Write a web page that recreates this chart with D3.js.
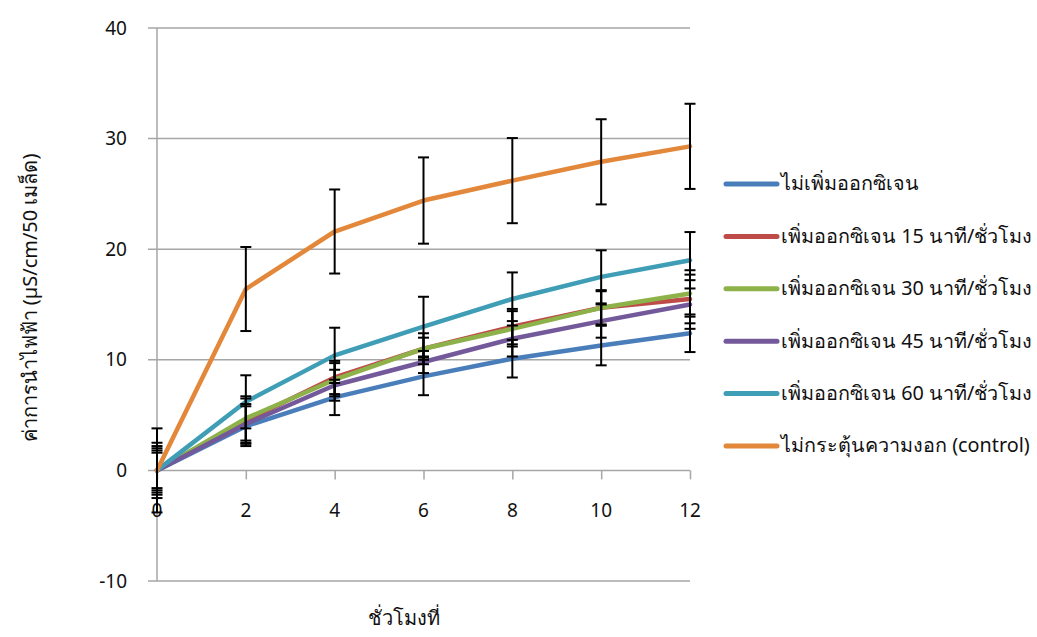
<!DOCTYPE html>
<html>
<head>
<meta charset="utf-8">
<script src="https://cdn.jsdelivr.net/npm/d3@7/dist/d3.min.js"></script>
<style>
  html, body { margin: 0; padding: 0; background: #fff; }
  svg { display: block; }
  text { font-family: "Noto Sans", "DejaVu Sans", sans-serif; fill: #111; }
</style>
</head>
<body>
<svg id="chart" width="1037" height="637"></svg>
<script>
// Hours of measurement
const hours = [0, 2, 4, 6, 8, 10, 12];

// Series names (legend order)
const seriesNames = [
  "ไม่เพิ่มออกซิเจน",
  "เพิ่มออกซิเจน 15 นาที/ชั่วโมง",
  "เพิ่มออกซิเจน 30 นาที/ชั่วโมง",
  "เพิ่มออกซิเจน 45 นาที/ชั่วโมง",
  "เพิ่มออกซิเจน 60 นาที/ชั่วโมง",
  "ไม่กระตุ้นความงอก (control)"
];

// Mean conductivity (µS/cm/50 seeds) per series
const noOxygen   = [0, 4.0, 6.6, 8.5, 10.1, 11.3, 12.4];
const oxygen15   = [0, 4.5, 8.4, 11.0, 13.0, 14.7, 15.5];
const oxygen30   = [0, 4.7, 8.2, 11.0, 12.8, 14.7, 16.0];
const oxygen45   = [0, 4.2, 7.7, 9.8, 11.9, 13.5, 15.0];
const oxygen60   = [0, 6.2, 10.4, 13.0, 15.5, 17.5, 19.0];
const control    = [0, 16.4, 21.6, 24.4, 26.2, 27.9, 29.3];

// Error bar half-widths per series
const errNoOxygen = [1.6, 1.8, 1.6, 1.7, 1.7, 1.8, 1.7];
const errOxygen15 = [2.0, 2.0, 1.5, 1.4, 1.6, 1.5, 2.2];
const errOxygen30 = [2.2, 2.0, 1.5, 1.0, 1.6, 1.6, 2.1];
const errOxygen45 = [1.8, 1.8, 1.4, 1.0, 1.6, 1.5, 2.2];
const errOxygen60 = [2.5, 2.4, 2.5, 2.7, 2.4, 2.4, 2.55];
const errControl  = [3.8, 3.8, 3.8, 3.9, 3.85, 3.85, 3.85];

const seriesColors = ["#4a7ebb", "#be4b48", "#8eb24a", "#73599a", "#3f9db6", "#e3873a"];

// Axis ticks
const xTicks = [0, 2, 4, 6, 8, 10, 12];
const yTicks = [-10, 0, 10, 20, 30, 40];

const xTitle = "ชั่วโมงที่";
const yTitle = "ค่าการนำไฟฟ้า (µS/cm/50 เมล็ด)";

const values = [noOxygen, oxygen15, oxygen30, oxygen45, oxygen60, control];
const errors = [errNoOxygen, errOxygen15, errOxygen30, errOxygen45, errOxygen60, errControl];
const series = seriesNames.map((name, i) => ({
  name, color: seriesColors[i],
  points: hours.map((h, j) => ({ x: h, y: values[i][j], e: errors[i][j] }))
}));

const svg = d3.select("#chart");
const x = d3.scaleLinear().domain([0, 12]).range([157, 690]);
const y = d3.scaleLinear().domain([-10, 40]).range([581, 28]);

const gridColor = "#a6a6a6";

// Horizontal gridlines (with outward stubs on the left acting as y ticks)
svg.append("g")
  .selectAll("line")
  .data(yTicks.filter(v => v !== 0))
  .join("line")
  .attr("x1", 148).attr("x2", x(12))
  .attr("y1", d => y(d)).attr("y2", d => y(d))
  .attr("stroke", gridColor).attr("stroke-width", 1.5);

// Y axis line
svg.append("line")
  .attr("x1", x(0)).attr("x2", x(0))
  .attr("y1", y(40)).attr("y2", y(-10))
  .attr("stroke", gridColor).attr("stroke-width", 1.5);

// X axis at zero, with tick marks pointing down
const xAxis = d3.axisBottom(x).tickValues(xTicks).tickSize(9).tickSizeOuter(0).tickFormat("");
const xg = svg.append("g").attr("transform", `translate(0,${y(0)})`).call(xAxis);
xg.select(".domain").attr("stroke", gridColor).attr("stroke-width", 1.5)
  .attr("d", `M148,0H${x(12)}`);
xg.selectAll(".tick line").attr("stroke", gridColor).attr("stroke-width", 1.5);

// Y tick labels
svg.append("g")
  .selectAll("text")
  .data(yTicks)
  .join("text")
  .attr("x", 127).attr("y", d => y(d))
  .attr("dy", "0.35em")
  .attr("text-anchor", "end")
  .style("font-size", "19px")
  .text(d => d);

// X tick labels
svg.append("g")
  .selectAll("text")
  .data(xTicks)
  .join("text")
  .attr("x", d => x(d)).attr("y", 510)
  .attr("dy", "0.35em")
  .attr("text-anchor", "middle")
  .style("font-size", "19px")
  .text(d => d);

// Series lines
const line = d3.line().x(d => x(d.x)).y(d => y(d.y));
const plot = svg.append("g");
series.forEach(s => {
  plot.append("path")
    .datum(s.points)
    .attr("d", line)
    .attr("fill", "none")
    .attr("stroke", s.color)
    .attr("stroke-width", 4.5)
    .attr("stroke-linejoin", "round")
    .attr("stroke-linecap", "round");
});

// Error bars
const capHalf = 5.5;
series.forEach(s => {
  const g = plot.append("g").attr("stroke", "#000").attr("stroke-width", 2);
  s.points.forEach(p => {
    const cx = x(p.x), top = y(p.y + p.e), bot = y(p.y - p.e);
    g.append("line").attr("x1", cx).attr("x2", cx).attr("y1", top).attr("y2", bot);
    g.append("line").attr("x1", cx - capHalf).attr("x2", cx + capHalf).attr("y1", top).attr("y2", top);
    g.append("line").attr("x1", cx - capHalf).attr("x2", cx + capHalf).attr("y1", bot).attr("y2", bot);
  });
});

// Axis titles
svg.append("text")
  .attr("x", 404).attr("y", 625)
  .attr("text-anchor", "middle")
  .style("font-size", "20px")
  .text(xTitle);

svg.append("text")
  .attr("transform", `translate(37,298) rotate(-90)`)
  .attr("text-anchor", "middle")
  .style("font-size", "20px")
  .text(yTitle);

// Legend
const legend = svg.append("g");
series.forEach((s, i) => {
  const ly = 184 + i * 52.4;
  legend.append("line")
    .attr("x1", 726).attr("x2", 777)
    .attr("y1", ly).attr("y2", ly)
    .attr("stroke", s.color).attr("stroke-width", 5)
    .attr("stroke-linecap", "round");
  legend.append("text")
    .attr("x", 781).attr("y", ly)
    .attr("dy", "0.32em")
    .style("font-size", "19.8px")
    .text(s.name);
});
</script>
</body>
</html>
